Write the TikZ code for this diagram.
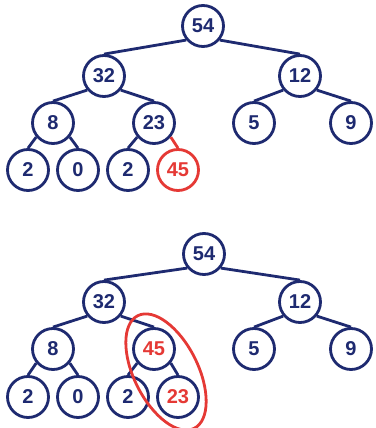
\documentclass[tikz,border=0pt]{standalone}
\usepackage{fontspec}
\setmainfont{Liberation Sans}
\definecolor{navy}{HTML}{1E2A70}
\definecolor{hred}{HTML}{E53935}
\begin{document}
\begin{tikzpicture}[x=1pt,y=-1pt,
  nd/.style={circle,draw=navy,line width=2.8pt,minimum size=41pt,inner sep=0pt,
    font=\fontsize{20}{20}\selectfont\bfseries,text=navy,fill=white},
  rednd/.style={nd,draw=hred,text=hred},
  redtext/.style={nd,text=hred},
  ed/.style={draw=navy,line width=2.8pt},
  red ed/.style={draw=hred,line width=2.8pt}]
\useasboundingbox (0,0) rectangle (375,428);
% top tree
\node[nd] (a1) at (203,26) {54};
\node[nd] (b1) at (104,76) {32};
\node[nd] (c1) at (300,76) {12};
\node[nd] (d1) at (53,123) {8};
\node[nd] (e1) at (154,123) {23};
\node[nd] (f1) at (254,123) {5};
\node[nd] (g1) at (351,123) {9};
\node[nd] (h1) at (28,170) {2};
\node[nd] (i1) at (78,170) {0};
\node[nd] (j1) at (128,170) {2};
\node[rednd] (k1) at (178,170) {45};
\draw[ed] (a1.-140) -- (b1.north);
\draw[ed] (a1.-40) -- (c1.north);
\draw[ed] (b1.-140) -- (d1.north);
\draw[ed] (b1.-40) -- (e1.north);
\draw[ed] (c1.-140) -- (f1.north);
\draw[ed] (c1.-40) -- (g1.north);
\draw[ed] (d1.-140) -- (h1.north);
\draw[ed] (d1.-40) -- (i1.north);
\draw[ed] (e1.-140) -- (j1.north);
\draw[red ed] (e1.-40) -- (k1.north);
% bottom tree
\node[nd] (a2) at (204,254) {54};
\node[nd] (b2) at (104,302) {32};
\node[nd] (c2) at (300,302) {12};
\node[nd] (d2) at (53,349) {8};
\node[redtext] (e2) at (154,349) {45};
\node[nd] (f2) at (254,349) {5};
\node[nd] (g2) at (351,349) {9};
\node[nd] (h2) at (28,397) {2};
\node[nd] (i2) at (78,397) {0};
\node[nd] (j2) at (128,397) {2};
\node[redtext] (k2) at (178,397) {23};
\draw[ed] (a2.-140) -- (b2.north);
\draw[ed] (a2.-40) -- (c2.north);
\draw[ed] (b2.-140) -- (d2.north);
\draw[ed] (b2.-40) -- (e2.north);
\draw[ed] (c2.-140) -- (f2.north);
\draw[ed] (c2.-40) -- (g2.north);
\draw[ed] (d2.-140) -- (h2.north);
\draw[ed] (d2.-40) -- (i2.north);
\draw[ed] (e2.-140) -- (j2.north);
\draw[ed] (e2.-40) -- (k2.north);
\draw[red ed, shift={(166,372)}, rotate=-63.4] (0,0) ellipse (63 and 32);
\end{tikzpicture}
\end{document}
